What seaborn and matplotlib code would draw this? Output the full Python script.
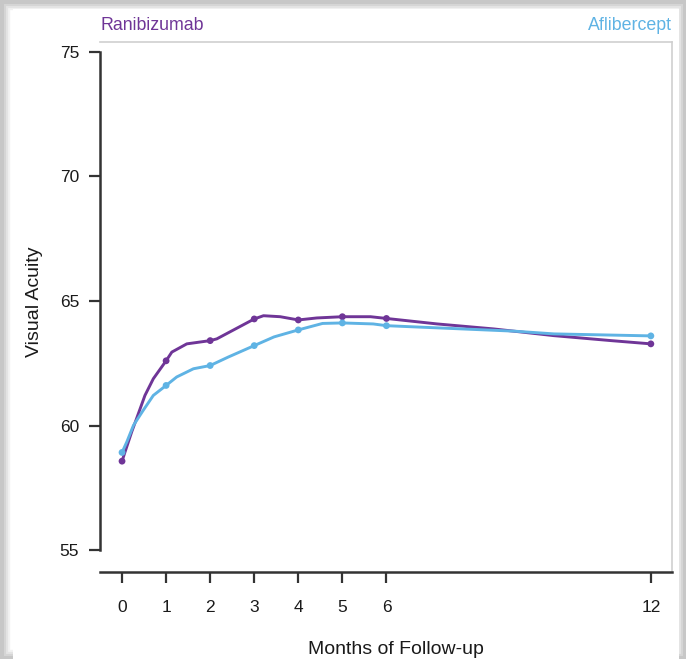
import numpy as np
import pandas as pd
import matplotlib
matplotlib.use('Agg')
import matplotlib.pyplot as plt
import seaborn as sns
from matplotlib.patches import Rectangle

# curve vertices (months, visual acuity letters)
rani_months = [0, 0.07, 0.22, 0.33, 0.52, 0.71, 1, 1.13, 1.47, 2, 2.15, 3, 3.21, 3.59,
               4, 4.42, 5, 5.64, 6, 7.15, 8.43, 9.8, 11.1, 12]
rani_va = [58.57, 58.95, 59.75, 60.28, 61.21, 61.88, 62.6, 62.95, 63.28, 63.41, 63.48,
           64.28, 64.41, 64.37, 64.24, 64.32, 64.37, 64.37, 64.3, 64.08, 63.88, 63.61,
           63.41, 63.28]
afli_months = [0, 0.11, 0.26, 0.48, 0.71, 1, 1.24, 1.62, 2, 2.41, 3, 3.45, 4, 4.55, 5,
               5.7, 6, 8.9, 9.8, 12]
afli_va = [58.92, 59.35, 60.01, 60.61, 61.21, 61.61, 61.95, 62.28, 62.41, 62.75, 63.21,
           63.56, 63.84, 64.1, 64.12, 64.08, 64.01, 63.79, 63.68, 63.6]

# visit markers
visit_months = [0, 1, 2, 3, 4, 5, 6, 12]
rani_visit = [58.57, 62.6, 63.41, 64.28, 64.24, 64.37, 64.3, 63.28]
afli_visit = [58.92, 61.61, 62.41, 63.21, 63.84, 64.12, 64.01, 63.6]

purple = '#6f3597'
blue = '#5fb3e4'

curves = pd.concat([
    pd.DataFrame({'month': rani_months, 'va': rani_va, 'drug': 'Ranibizumab'}),
    pd.DataFrame({'month': afli_months, 'va': afli_va, 'drug': 'Aflibercept'}),
])
visits = pd.concat([
    pd.DataFrame({'month': visit_months, 'va': rani_visit, 'drug': 'Ranibizumab'}),
    pd.DataFrame({'month': visit_months, 'va': afli_visit, 'drug': 'Aflibercept'}),
])
pal = {'Ranibizumab': purple, 'Aflibercept': blue}

sns.set_style('white')
plt.rcParams['font.family'] = ['Liberation Sans', 'DejaVu Sans']

fig = plt.figure(figsize=(6.86, 6.59), dpi=100)
fig.patch.set_facecolor('#ffffff')
# screenshot-like shadow frame
W, H = 686, 659
for i, a in enumerate([0.10, 0.12, 0.14, 0.16]):
    fig.patches.append(Rectangle((0, 0), 1, 1, transform=fig.transFigure,
                                 facecolor='none', edgecolor='#808080',
                                 lw=(14 - 3 * i), alpha=a, zorder=0))
fig.patches.append(Rectangle((13 / W, 0), (679 - 13) / W, (659 - 9) / H,
                             transform=fig.transFigure, facecolor='white',
                             edgecolor='none', zorder=1))

ax = fig.add_axes([100 / W, 1 - 572 / H, (672 - 100) / W, (572 - 42) / H])
ax.set_zorder(2)

sns.lineplot(data=curves, x='month', y='va', hue='drug', palette=pal, sort=False,
             estimator=None, lw=2.1, legend=False, ax=ax)
sns.scatterplot(data=visits, x='month', y='va', hue='drug', palette=pal, s=24,
                edgecolor='none', legend=False, ax=ax, zorder=3)

ax.set_xlim(-0.5, 12.48)
ax.set_ylim(54.12, 75.4)
ax.set_xticks(visit_months)
ax.set_yticks([55, 60, 65, 70, 75])

for s in ['top', 'right']:
    ax.spines[s].set_color('#cfcfcf')
    ax.spines[s].set_linewidth(1.2)
ax.spines['left'].set_color('#333333')
ax.spines['left'].set_linewidth(1.8)
ax.spines['left'].set_bounds(55, 75)
ax.spines['bottom'].set_color('#333333')
ax.spines['bottom'].set_linewidth(1.8)

ax.tick_params(axis='y', direction='out', length=8, width=1.6, color='#333333',
               labelsize=12.5, labelcolor='#1a1a1a', pad=7, left=True)
ax.tick_params(axis='x', direction='out', length=8, width=1.6, color='#333333',
               labelsize=12.5, labelcolor='#1a1a1a', pad=12, bottom=True)

ax.set_xlabel('Months of Follow-up', fontsize=14, color='#1a1a1a')
ax.set_ylabel('Visual Acuity', fontsize=14, color='#1a1a1a')
ax.xaxis.set_label_coords(0.517, -0.131)
ax.yaxis.set_label_coords(-0.1, 0.51)

ax.text(0.0, 1.0226, 'Ranibizumab', transform=ax.transAxes, color=purple,
        fontsize=12.8, ha='left', va='baseline')
ax.text(1.0, 1.0226, 'Aflibercept', transform=ax.transAxes, color=blue,
        fontsize=12.8, ha='right', va='baseline')

fig.savefig('out.png', dpi=100)
